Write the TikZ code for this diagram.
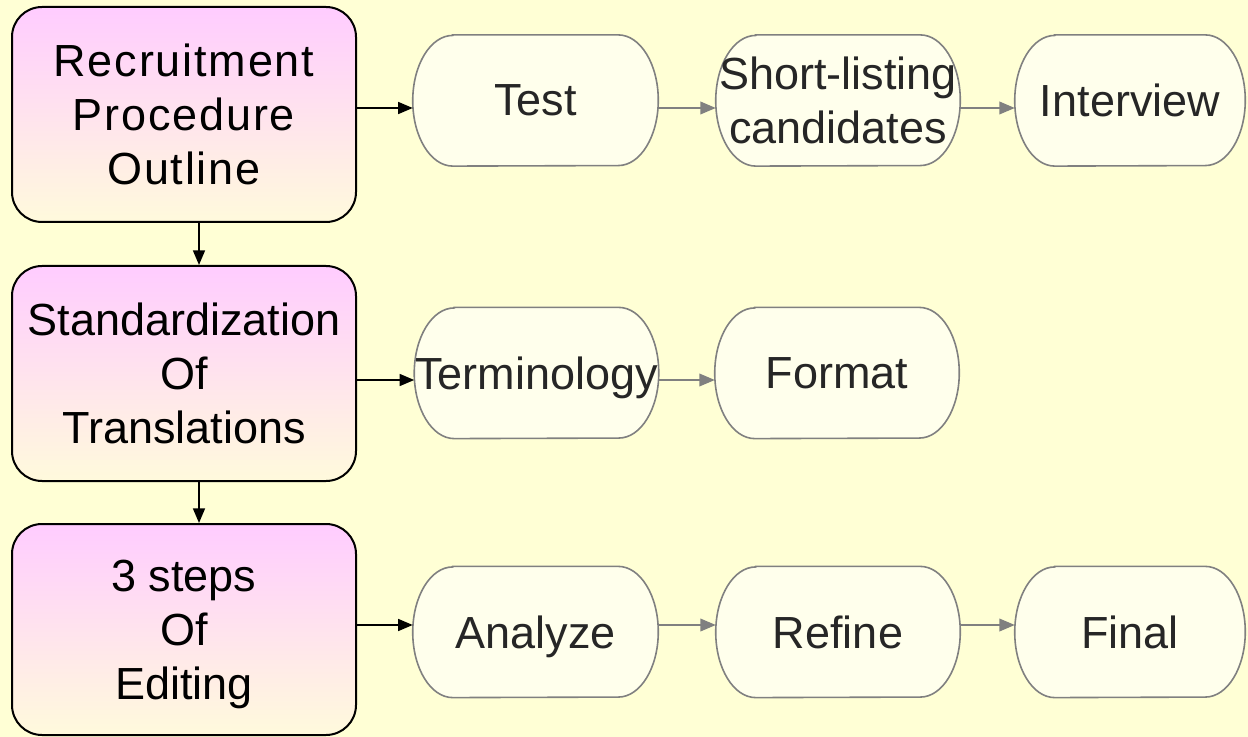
\documentclass[tikz,border=0pt]{standalone}
\usepackage{fontspec}
\setmainfont{Liberation Sans}
\usetikzlibrary{arrows.meta}

\pgfdeclarelayer{back}
\pgfsetlayers{back,main}

\definecolor{slidebg}{HTML}{FFFFD5}
\definecolor{boxpink}{HTML}{FFCCFF}
\definecolor{boxmid}{HTML}{FFE4EE}
\definecolor{boxcream}{HTML}{FFFADC}
\definecolor{stepfill}{HTML}{FFFFEC}
\definecolor{stepgray}{HTML}{808080}

\tikzset{
  outline/.style={draw=black, line width=1.5pt, rounded corners=22.5pt,
    top color=boxpink, middle color=boxmid, bottom color=boxcream,
    minimum width=258pt, inner sep=0pt, align=center, text depth=0pt,
    font=\fontsize{33.75}{40.5}\selectfont},
  stepnode/.style={minimum height=98pt, inner sep=0pt, align=center,
    text depth=0pt, text=black!85, font=\fontsize{33.75}{40.5}\selectfont},
  stepshape/.style={draw=stepgray, fill=stepfill, line width=1.2pt},
  mainarrow/.style={draw=black, line width=1.25pt, -{Triangle[length=11pt,width=9pt]}},
  steparrow/.style={draw=stepgray, line width=1.1pt, -{Triangle[length=11.5pt,width=9.5pt]}}
}

\begin{document}
\begin{tikzpicture}[x=0.75pt,y=-0.75pt]
\useasboundingbox (0,0) rectangle (1248,737);
\begin{pgfonlayer}{back}
\fill[slidebg] (0,0) rectangle (1248,737);
\end{pgfonlayer}

% left column
\node[outline, minimum height=161.25pt] (recruit) at (184,114.5) {\addfontfeatures{LetterSpace=4}Recruitment\\\addfontfeatures{LetterSpace=4}Procedure\\\addfontfeatures{LetterSpace=4}Outline};
\node[outline, minimum height=161.25pt] (standard) at (184,373.5) {Standardization\\Of\\Translations};
\node[outline, minimum height=158.25pt] (editing) at (184,629.5) {3 steps\\Of\\Editing};

% steps
\node[stepnode, minimum width=183.75pt] (test) at (535.5,100.5) {Test};
\node[stepnode, minimum width=183pt] (short) at (838,100.5) {Short-listing\\candidates};
\node[stepnode, minimum width=172.5pt] (interview) at (1130,100.5) {Interview};

\node[stepnode, minimum width=183pt, inner xsep=-2pt] (term) at (536.5,373) {Terminology};
\node[stepnode, minimum width=183pt] (format) at (837,373) {Format};

\node[stepnode, minimum width=183.75pt] (analyze) at (535.5,632) {Analyze};
\node[stepnode, minimum width=183pt] (refine) at (838,632) {Refine};
\node[stepnode, minimum width=172.5pt] (final) at (1130,632) {Final};

% step outlines
\begin{pgfonlayer}{back}
\foreach \n in {test,short,interview,term,format,analyze,refine,final}
  \draw[stepshape] ([xshift=30pt]\n.north west) -- ([xshift=-30pt]\n.north east)
    arc[start angle=90, end angle=-90, x radius=30pt, y radius=49pt]
    -- ([xshift=30pt]\n.south west)
    arc[start angle=270, end angle=90, x radius=30pt, y radius=49pt] -- cycle;
\end{pgfonlayer}

% arrow rows
\coordinate (row1) at (0,108);
\coordinate (row2) at (0,380);
\coordinate (row3) at (0,625);
\coordinate (down) at (199,0);

\draw[mainarrow] (recruit.south -| down) -- (standard.north -| down);
\draw[mainarrow] (standard.south -| down) -- (editing.north -| down);

\draw[mainarrow] (recruit.east |- row1) -- (test.west |- row1);
\draw[steparrow] (test.east |- row1) -- (short.west |- row1);
\draw[steparrow] (short.east |- row1) -- (interview.west |- row1);

\draw[mainarrow] (standard.east |- row2) -- (term.west |- row2);
\draw[steparrow] (term.east |- row2) -- (format.west |- row2);

\draw[mainarrow] (editing.east |- row3) -- (analyze.west |- row3);
\draw[steparrow] (analyze.east |- row3) -- (refine.west |- row3);
\draw[steparrow] (refine.east |- row3) -- (final.west |- row3);

\end{tikzpicture}
\end{document}
